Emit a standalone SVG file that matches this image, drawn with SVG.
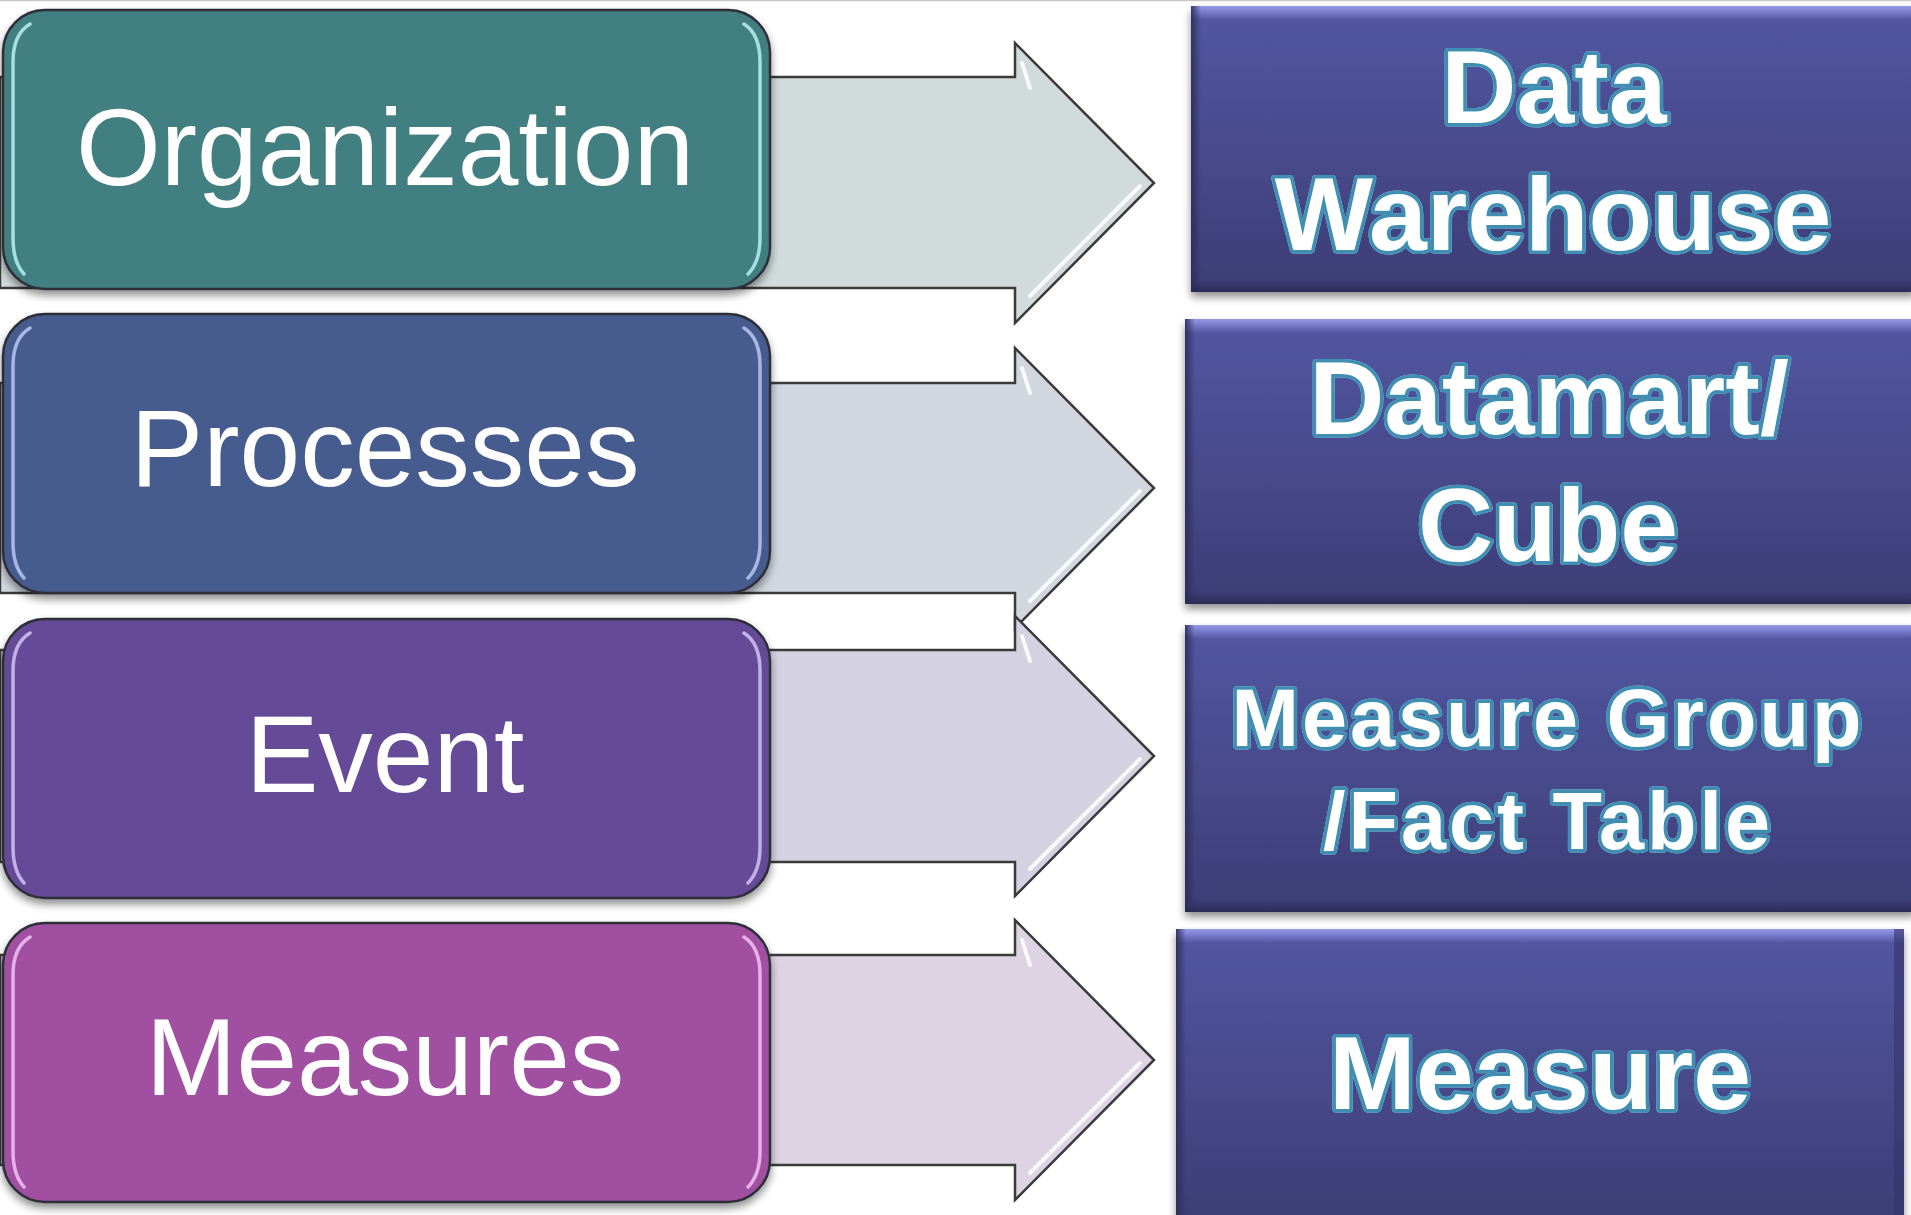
<svg xmlns="http://www.w3.org/2000/svg" width="1911" height="1215" viewBox="0 0 1911 1215">
<defs>
<style>
.arrow{stroke:#3a3a3a;stroke-width:2.5;stroke-linejoin:miter}
.hl{fill:none;stroke:#ffffff;stroke-width:4;stroke-linecap:round;opacity:0.85}
.lbox{stroke:#2f2f3a;stroke-width:2.5}
.ltxt{font-family:"Liberation Sans",Arial,sans-serif;font-size:109px;fill:#ffffff;text-anchor:middle}
.rtxt{font-family:"Liberation Sans",Arial,sans-serif;font-weight:bold;fill:#ffffff;text-anchor:middle;stroke:#3f8fb2;stroke-width:7;stroke-linejoin:round;paint-order:stroke}
.edge{fill:none;stroke-width:3.5;stroke-linecap:round;opacity:0.85}
</style>
<linearGradient id="rg" x1="0" y1="0" x2="0" y2="1">
<stop offset="0" stop-color="#5357a2"/>
<stop offset="1" stop-color="#3d3d76"/>
</linearGradient>
<linearGradient id="topbev" x1="0" y1="0" x2="0" y2="1">
<stop offset="0" stop-color="#9a9cec" stop-opacity="0.95"/>
<stop offset="1" stop-color="#9a9cec" stop-opacity="0"/>
</linearGradient>
<linearGradient id="leftbev" x1="0" y1="0" x2="1" y2="0">
<stop offset="0" stop-color="#2c2c5a" stop-opacity="0.9"/>
<stop offset="1" stop-color="#2c2c5a" stop-opacity="0"/>
</linearGradient>
<linearGradient id="botbev" x1="0" y1="0" x2="0" y2="1">
<stop offset="0" stop-color="#2a2a55" stop-opacity="0"/>
<stop offset="1" stop-color="#2a2a55" stop-opacity="0.9"/>
</linearGradient>
<filter id="sh" x="-5%" y="-5%" width="110%" height="115%">
<feGaussianBlur in="SourceAlpha" stdDeviation="4"/>
<feOffset dy="5" result="b"/>
<feComponentTransfer><feFuncA type="linear" slope="0.45"/></feComponentTransfer>
<feMerge><feMergeNode/><feMergeNode in="SourceGraphic"/></feMerge>
</filter>
<filter id="glow" x="-10%" y="-20%" width="120%" height="140%">
<feGaussianBlur in="SourceAlpha" stdDeviation="3"/>
<feComponentTransfer><feFuncA type="linear" slope="0.5"/></feComponentTransfer>
<feFlood flood-color="#8fd0ee"/>
<feComposite operator="in" in2="SourceAlpha"/>
<feMerge><feMergeNode/><feMergeNode in="SourceGraphic"/></feMerge>
</filter>
</defs>
<rect x="0" y="0" width="1911" height="1215" fill="#ffffff"/>
<line x1="0" y1="0.5" x2="1911" y2="0.5" stroke="#c8c8c8" stroke-width="1.5"/>

<g id="connectors">
<g id="arrow1">
<path class="arrow" fill="#d1dbdb" d="M0,77 H1015 V43 L1154,183 L1015,323 V288 H0 Z"/>
<path class="hl" d="M1022,63 L1030,88 M1140,186 L1030,296"/>
</g>
<g id="arrow2">
<path class="arrow" fill="#d1d6df" d="M0,383 H1015 V348 L1154,488 L1015,628 V593 H0 Z"/>
<path class="hl" d="M1022,368 L1030,393 M1140,491 L1030,601"/>
</g>
<g id="arrow3">
<path class="arrow" fill="#d4d2e0" d="M0,650 H1015 V616 L1154,756 L1015,896 V862 H0 Z"/>
<path class="hl" d="M1022,636 L1030,661 M1140,759 L1030,869"/>
</g>
<g id="arrow4">
<path class="arrow" fill="#ddd3e2" d="M0,955 H1015 V920 L1154,1060 L1015,1200 V1165 H0 Z"/>
<path class="hl" d="M1022,940 L1030,965 M1140,1063 L1030,1173"/>
</g>
</g>

<g id="organization" filter="url(#sh)">
<rect class="lbox" x="3" y="10" width="767" height="279" rx="42" fill="#437f80"/>
<path class="edge" stroke="#b6f0f2" d="M30,24 Q13,34 13,62 V238 Q13,262 24,274 M744,24 Q760,34 760,62 V238 Q760,262 748,274"/>
<text class="ltxt" x="385" y="185">Organization</text>
</g>
<g id="processes" filter="url(#sh)">
<rect class="lbox" x="3" y="314" width="767" height="279" rx="42" fill="#475b8e"/>
<path class="edge" stroke="#b8c8f2" d="M30,328 Q13,338 13,366 V542 Q13,566 24,578 M744,328 Q760,338 760,366 V542 Q760,566 748,578"/>
<text class="ltxt" x="385" y="486">Processes</text>
</g>
<g id="event" filter="url(#sh)">
<rect class="lbox" x="3" y="619" width="767" height="279" rx="42" fill="#654b97"/>
<path class="edge" stroke="#d2c2f4" d="M30,633 Q13,643 13,671 V847 Q13,871 24,883 M744,633 Q760,643 760,671 V847 Q760,871 748,883"/>
<text class="ltxt" x="385" y="792">Event</text>
</g>
<g id="measures" filter="url(#sh)">
<rect class="lbox" x="3" y="923" width="767" height="279" rx="42" fill="#a14fa1"/>
<path class="edge" stroke="#f2c2f4" d="M30,937 Q13,947 13,975 V1151 Q13,1175 24,1187 M744,937 Q760,947 760,975 V1151 Q760,1175 748,1187"/>
<text class="ltxt" x="385" y="1095">Measures</text>
</g>

<g id="data-warehouse" filter="url(#sh)">
<rect x="1191" y="6" width="725" height="286" fill="url(#rg)"/>
<rect x="1191" y="6" width="725" height="14" fill="url(#topbev)"/>
<rect x="1191" y="6" width="10" height="286" fill="url(#leftbev)"/>
<rect x="1191" y="280" width="725" height="12" fill="url(#botbev)"/>
<g filter="url(#glow)">
<text class="rtxt" x="1554" y="123" font-size="104">Data</text>
<text class="rtxt" x="1553" y="250" font-size="104">Warehouse</text>
</g>
</g>
<g id="datamart-cube" filter="url(#sh)">
<rect x="1185" y="319" width="731" height="285" fill="url(#rg)"/>
<rect x="1185" y="319" width="731" height="14" fill="url(#topbev)"/>
<rect x="1185" y="319" width="10" height="285" fill="url(#leftbev)"/>
<rect x="1185" y="592" width="731" height="12" fill="url(#botbev)"/>
<g filter="url(#glow)">
<text class="rtxt" x="1549" y="434" font-size="104">Datamart/</text>
<text class="rtxt" x="1548" y="561" font-size="104">Cube</text>
</g>
</g>
<g id="measure-group" filter="url(#sh)">
<rect x="1185" y="625" width="731" height="287" fill="url(#rg)"/>
<rect x="1185" y="625" width="731" height="14" fill="url(#topbev)"/>
<rect x="1185" y="625" width="10" height="287" fill="url(#leftbev)"/>
<rect x="1185" y="900" width="731" height="12" fill="url(#botbev)"/>
<g filter="url(#glow)">
<text class="rtxt" x="1548" y="746" font-size="81" letter-spacing="3">Measure Group</text>
<text class="rtxt" x="1548" y="849" font-size="81" letter-spacing="3">/Fact Table</text>
</g>
</g>
<g id="measure" filter="url(#sh)">
<rect x="1176" y="929" width="728" height="290" fill="url(#rg)"/>
<rect x="1176" y="929" width="728" height="14" fill="url(#topbev)"/>
<rect x="1176" y="929" width="10" height="290" fill="url(#leftbev)"/>
<rect x="1894" y="929" width="10" height="290" fill="#34346a" opacity="0.6"/>
<g filter="url(#glow)">
<text class="rtxt" x="1540" y="1109" font-size="104">Measure</text>
</g>
</g>
</svg>
